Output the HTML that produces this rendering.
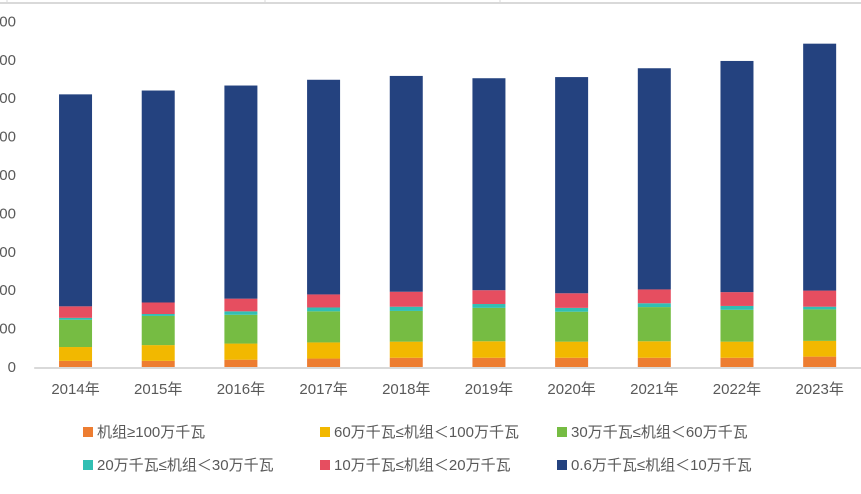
<!DOCTYPE html>
<html><head><meta charset="utf-8"><style>
body{margin:0;background:#fff;width:861px;height:489px;overflow:hidden;font-family:"Liberation Sans","Noto Sans CJK SC",sans-serif}
svg text{font-family:"Liberation Sans","Noto Sans CJK SC",sans-serif;fill:#595959}
</style></head><body>
<svg id="chart" width="861" height="489">
<line x1="0" y1="3" x2="861" y2="3" stroke="#d9d9d9" stroke-width="2"/>
<line x1="7" y1="0" x2="7" y2="3" stroke="#d9d9d9"/>
<line x1="265" y1="0" x2="265" y2="3" stroke="#d9d9d9"/>
<line x1="500" y1="0" x2="500" y2="3" stroke="#d9d9d9"/>
<g id="bars"></g><g id="yax"></g><g id="xax"></g><g id="legend"></g>
</svg>
<script>
const categories=["2014年","2015年","2016年","2017年","2018年","2019年","2020年","2021年","2022年","2023年"];
const seriesNames=["机组≥100万千瓦","60万千瓦≤机组＜100万千瓦","30万千瓦≤机组＜60万千瓦","20万千瓦≤机组＜30万千瓦","10万千瓦≤机组＜20万千瓦","0.6万千瓦≤机组＜10万千瓦"];
const s100=[16,16,19,22,24,24,24,24,24,27];
const s60=[36,41,42,42,42,43,42,43,42,41];
const s30=[71,76,75,81,80,87,78,89,83,82];
const s20=[5,5,9,10,11,10,10,10,10,7];
const s10=[30,30,33,34,39,36,38,36,36,42];
const s06=[552,552,555,559,562,552,563,576,602,643];
const yTicks=[0,100,200,300,400,500,600,700,800,900];
const colors=["#ed7d31","#f2b800","#76bc43","#31bfb3","#e64e60","#24427f"];
const series=[s100,s60,s30,s20,s10,s06];
const NS="http://www.w3.org/2000/svg";
const x0=34.2,x1=861,y0=367,pxPerUnit=0.384;
const bw=(x1-x0)/categories.length;
const yScale=v=>y0-v*pxPerUnit;
const xCenter=i=>x0+bw*(i+0.5);
function mk(tag,attrs,parent){const e=document.createElementNS(NS,tag);for(const k in attrs)e.setAttribute(k,attrs[k]);parent.appendChild(e);return e;}
const gb=document.getElementById('bars');
categories.forEach((c,i)=>{let acc=0;series.forEach((s,j)=>{const v=s[i];
const r=mk('rect',{x:xCenter(i)-16.5,y:yScale(acc+v),width:33,height:v*pxPerUnit,fill:colors[j]},gb);


acc+=v;});});
const gy=document.getElementById('yax');
yTicks.forEach(t=>{const tx=mk('text',{x:16,y:yScale(t)+5,'text-anchor':'end','font-size':15},gy);tx.textContent=t;

});
const gx=document.getElementById('xax');
const ax=mk('line',{x1:x0,y1:y0+1,x2:x1,y2:y0+1,stroke:'#d9d9d9','stroke-width':2},gx);


categories.forEach((c,i)=>{const tx=mk('text',{x:xCenter(i),y:394,'text-anchor':'middle','font-size':15},gx);tx.textContent=c;

});
const gl=document.getElementById('legend');
const lx=[83,320,557],ly=[432,465];
seriesNames.forEach((n,j)=>{const x=lx[j%3],y=ly[Math.floor(j/3)];
const g=mk('g',{},gl);


mk('rect',{x:x,y:y-5,width:10,height:10,fill:colors[j]},g);
const t=mk('text',{x:x+14,y:y+5,'font-size':15},g);t.textContent=n;});
</script>
</body></html>
